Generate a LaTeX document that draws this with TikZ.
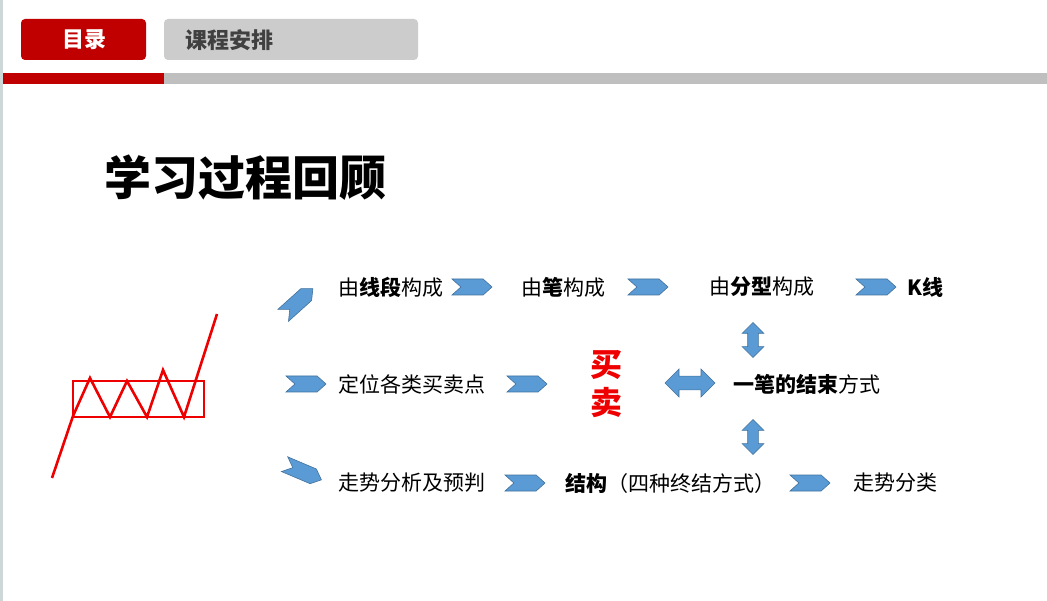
\documentclass[tikz,border=0pt]{standalone}
\usepackage{fontspec}
\setmainfont{Noto Sans CJK SC}
\usetikzlibrary{shapes.symbols,shapes.arrows}
\definecolor{hdred}{RGB}{192,0,0}
\definecolor{hdgray}{RGB}{204,204,204}
\definecolor{hdtext}{RGB}{64,64,64}
\definecolor{bargray}{RGB}{191,191,191}
\definecolor{chevblue}{RGB}{91,155,213}
\definecolor{chevline}{RGB}{65,113,156}
\definecolor{edgeline}{RGB}{205,215,215}
\definecolor{tradered}{RGB}{238,0,0}

\begin{document}
\begin{tikzpicture}[x=1pt,y=-1pt,
    txt/.style={anchor=west,inner sep=0pt,font=\fontsize{21}{25}\selectfont},
    chev/.style={signal,signal from=west,signal to=east,signal pointer angle=84,
      fill=chevblue,draw=chevline,line width=0.6pt,
      minimum width=40pt,minimum height=16pt,inner sep=0pt},
    dblarr/.style={double arrow,fill=chevblue,draw=chevline,line width=0.6pt,
      inner xsep=0pt},
    hdbl/.style={dblarr,inner ysep=6.5pt,double arrow head extend=7pt,
      minimum height=50pt,minimum width=28pt},
    vdbl/.style={dblarr,rotate=90,inner ysep=5pt,double arrow head extend=5.5pt,
      minimum height=35pt,minimum width=21pt},
    zig/.style={tradered,line width=2.6pt,line join=miter}]
    \useasboundingbox (0,0) rectangle (1047,601);
    \fill[white] (0,0) rectangle (1047,601);
    \fill[edgeline] (0,0) rectangle (2.5,601);

    % header
    \fill[hdred,rounded corners=4pt] (21,19) rectangle (146,60);
    \fill[hdgray,rounded corners=4pt] (164,19) rectangle (418,60);
    \node[inner sep=0pt,white,font=\fontsize{22}{26}\selectfont\bfseries] (mulu) at (84,40) {目录};
    \node[anchor=west,inner sep=0pt,hdtext,font=\fontsize{22}{26}\selectfont\bfseries] (anpai) at (185,40) {课程安排};
    \fill[hdred] (3,73) rectangle (164,84);
    \fill[bargray] (164,73) rectangle (1047,84);

    \node[anchor=west,inner sep=0pt,font=\fontsize{47}{54}\selectfont\bfseries] (title) at (104,178) {学习过程回顾};

    % zhongshu figure
    \draw[zig] (73,381) rectangle (204,417);
    \draw[zig] (52,478) -- (73,416) -- (90,378) -- (110,417) -- (127,381)
      -- (147,417) -- (163,370) -- (184,417) -- (217,314);

    % row 1
    \node[chev,rotate=42] (c0) at (298,302) {};
    \node[txt] (xianduan) at (338,287) {由\textbf{线段}构成};
    \node[chev] (c1) at (472,287) {};
    \node[txt] (bi) at (521,287) {由\textbf{笔}构成};
    \node[chev] (c2) at (648,287) {};
    \node[txt] (fenxing) at (709,287) {由\textbf{分型}构成};
    \node[chev] (c3) at (876,287) {};
    \node[txt] (kxian) at (907,287) {\textbf{K线}};

    % row 2
    \node[chev] (c4) at (306,384) {};
    \node[txt] (dingwei) at (338,384) {定位各类买卖点};
    \node[chev] (c5) at (527,384) {};
    \node[inner sep=0pt,tradered,align=center,font=\fontsize{32}{38}\selectfont\bfseries] (maimai) at (606,384) {买\\卖};
    \node[hdbl] (hd) at (690,383) {};
    \node[txt] (jieshu) at (733,384) {\textbf{一笔的结束}方式};
    \node[vdbl] (vu) at (753,340) {};
    \node[vdbl] (vd) at (753,437) {};

    % row 3
    \node[chev,rotate=-23] (c6) at (303,472) {};
    \node[txt] (zoushi) at (338,483) {走势分析及预判};
    \node[chev] (c7) at (525,483) {};
    \node[txt] (jiegou) at (565,483) {\textbf{结构}（四种终结方式）};
    \node[chev] (c8) at (810,483) {};
    \node[txt] (fenlei) at (853,483) {走势分类};
\end{tikzpicture}
\end{document}
